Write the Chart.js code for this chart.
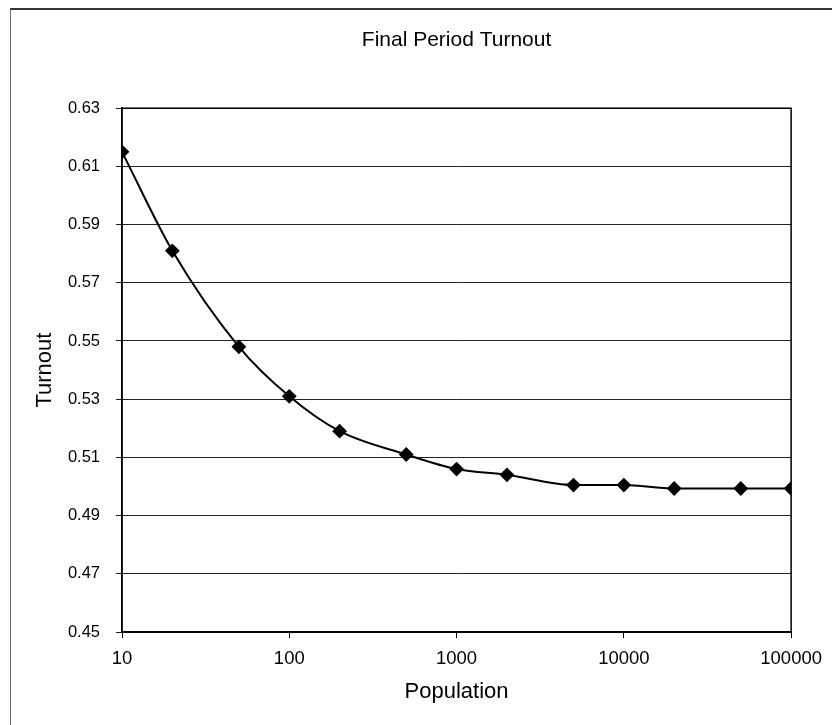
<!DOCTYPE html>
<html>
<head>
<meta charset="utf-8">
<script src="https://cdn.jsdelivr.net/npm/chart.js@4"></script>
<style>
  html, body { margin: 0; padding: 0; background: #fff; }
  #wrap { position: relative; width: 832px; height: 725px; overflow: hidden; }
  #frame { position: absolute; left: 10px; top: 8px; width: 840px; height: 740px;
           border-left: 1px solid #666; border-top: 2px solid #333; pointer-events: none; }
  canvas { position: absolute; left: 0; top: 0; }
</style>
</head>
<body>
<div id="wrap">
  <canvas id="c" width="832" height="725"></canvas>
  <div id="frame"></div>
</div>
<script>
const population = [10, 20, 50, 100, 200, 500, 1000, 2000, 5000, 10000, 20000, 50000, 100000];
const turnout = [0.615, 0.581, 0.548, 0.531, 0.519, 0.511, 0.506, 0.504, 0.5005, 0.5005, 0.4993, 0.4993, 0.4993];
const xTickValues = [10, 100, 1000, 10000, 100000];
const yTickValues = [0.45, 0.47, 0.49, 0.51, 0.53, 0.55, 0.57, 0.59, 0.61, 0.63];

const FONT = "'Liberation Sans', Arial, Helvetica, sans-serif";

const plotBorder = {
  id: 'plotBorder',
  afterDraw(chart) {
    const a = chart.chartArea, ctx = chart.ctx;
    ctx.save();
    ctx.strokeStyle = '#000';
    ctx.lineWidth = 1.5;
    ctx.strokeRect(a.left, a.top, a.right - a.left, a.bottom - a.top);
    ctx.restore();
  }
};

new Chart(document.getElementById('c'), {
  type: 'line',
  data: {
    datasets: [{
      data: population.map((p, i) => ({ x: p, y: turnout[i] })),
      borderColor: '#000',
      backgroundColor: '#000',
      borderWidth: 2,
      cubicInterpolationMode: 'monotone',
      pointStyle: 'rectRot',
      pointRadius: 6,
      pointBackgroundColor: '#000',
      pointBorderColor: '#000',
      fill: false
    }]
  },
  options: {
    responsive: false,
    animation: false,
    devicePixelRatio: 1,
    layout: { padding: { left: 0, right: 38, top: 0, bottom: 0 } },
    plugins: {
      legend: { display: false },
      tooltip: { enabled: false },
      title: {
        display: true,
        fullSize: false,
        text: 'Final Period Turnout',
        color: '#000',
        font: { family: FONT, size: 21, weight: 'normal' },
        padding: { top: 28, bottom: 55 }
      }
    },
    scales: {
      x: {
        type: 'logarithmic',
        min: 10,
        max: 100000,
        afterBuildTicks: s => { s.ticks = xTickValues.map(v => ({ value: v })); },
        afterFit: s => { s.height = 93; },
        ticks: {
          color: '#000',
          font: { family: FONT, size: 18.5 },
          padding: 10,
          maxRotation: 0,
          autoSkip: false,
          callback: v => String(v)
        },
        grid: { drawOnChartArea: false, drawTicks: true, tickLength: 6, color: '#000', lineWidth: 1 },
        border: { display: true, color: '#000', width: 1.5 },
        title: {
          display: true,
          text: 'Population',
          color: '#000',
          font: { family: FONT, size: 22 },
          padding: { top: 0, bottom: 20 }
        }
      },
      y: {
        type: 'linear',
        min: 0.45,
        max: 0.63,
        afterBuildTicks: s => { s.ticks = yTickValues.map(v => ({ value: v })); },
        afterFit: s => { s.width = 122; },
        ticks: {
          color: '#000',
          font: { family: FONT, size: 16.5 },
          padding: 16,
          autoSkip: false,
          callback: v => Number(v).toFixed(2)
        },
        grid: { color: '#222', lineWidth: 1, tickLength: 6 },
        border: { display: true, color: '#000', width: 1.5 },
        title: {
          display: true,
          text: 'Turnout',
          color: '#000',
          font: { family: FONT, size: 22 },
          padding: { top: 32, bottom: 0 }
        }
      }
    }
  },
  plugins: [plotBorder]
});
</script>
</body>
</html>
